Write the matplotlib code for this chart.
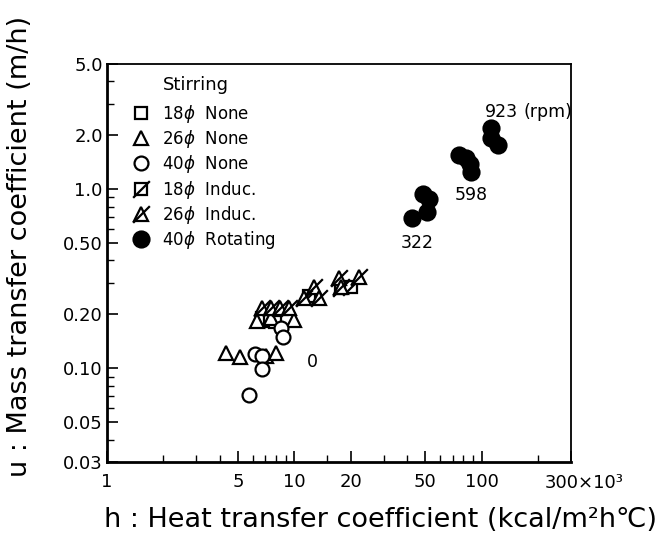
import matplotlib
matplotlib.use("Agg")
import matplotlib.pyplot as plt
from matplotlib.path import Path
from matplotlib.legend_handler import HandlerTuple
from matplotlib.ticker import FixedLocator, NullFormatter, FixedFormatter

# ---- data (h in 10^3 kcal/m2 h C, u in m/h) ----
sq18_none_h = [6.7, 7.4, 7.9]
sq18_none_u = [0.19, 0.184, 0.182]

tri26_none_h = [4.30, 5.16, 7.10, 8.02, 6.36, 7.55, 10.0]
tri26_none_u = [0.122, 0.116, 0.117, 0.122, 0.184, 0.19, 0.186]

circ40_none_h = [5.76, 6.20, 6.76, 6.76, 8.53, 8.74]
circ40_none_u = [0.071, 0.12, 0.117, 0.099, 0.168, 0.150]

sq18_induc_h = [12.0, 17.8, 20.1]
sq18_induc_u = [0.255, 0.28, 0.285]

tri26_induc_h = [6.76, 7.55, 8.43, 9.40, 11.3, 12.8, 13.6, 17.4, 17.8, 22.2]
tri26_induc_u = [0.218, 0.218, 0.218, 0.218, 0.247, 0.285, 0.247, 0.32, 0.285, 0.324]

rot40_h = [42.4, 51.0, 48.5, 52.3, 75.5, 82.2, 86.4, 87.4, 111.6, 111.6, 121.7]
rot40_u = [0.69, 0.75, 0.94, 0.88, 1.56, 1.50, 1.39, 1.25, 2.2, 1.94, 1.77]

x_ticks = [1, 5, 10, 20, 50, 100, 300]
x_ticklabels = ["1", "5", "10", "20", "50", "100", ""]
x_last_label = "300×10³"
y_ticks = [0.03, 0.05, 0.10, 0.20, 0.50, 1.0, 2.0, 5.0]
y_ticklabels = ["0.03", "0.05", "0.10", "0.20", "0.50", "1.0", "2.0", "5.0"]

rpm_labels = [("0", 12.5, 0.109), ("322", 45.1, 0.50), ("598", 88.5, 0.93),
              ("923", 127, 2.7), ("(rpm)", 225, 2.7)]

# ---- figure ----
fig = plt.figure(figsize=(6.71, 5.44), dpi=100)
ax = fig.add_axes([107/671, 1-462/544, (571-107)/671, (462-64)/544])
ax.set_xscale("log")
ax.set_yscale("log")
ax.set_xlim(1, 300)
ax.set_ylim(0.03, 5.0)

slash = Path([(-1, -1), (1, 1)], [Path.MOVETO, Path.LINETO])
ms = 10
lw = 1.6
common = dict(linestyle="none", color="black", markeredgewidth=lw)

h1, = ax.plot(sq18_none_h, sq18_none_u, marker="s", markerfacecolor="white", markersize=ms*0.9, **common)
h2, = ax.plot(tri26_none_h, tri26_none_u, marker="^", markerfacecolor="white", markersize=ms, **common)
h3, = ax.plot(circ40_none_h, circ40_none_u, marker="o", markerfacecolor="white", markersize=ms, **common)
h4a, = ax.plot(sq18_induc_h, sq18_induc_u, marker="s", markerfacecolor="white", markersize=ms*0.9, **common)
h4b, = ax.plot(sq18_induc_h, sq18_induc_u, marker=slash, markersize=ms*1.2, **common)
h5a, = ax.plot(tri26_induc_h, tri26_induc_u, marker="^", markerfacecolor="white", markersize=ms, **common)
h5b, = ax.plot(tri26_induc_h, tri26_induc_u, marker=slash, markersize=ms*1.2, **common)
h6, = ax.plot(rot40_h, rot40_u, marker="o", markerfacecolor="black", markersize=ms*1.15, **common)

# ticks
ax.xaxis.set_major_locator(FixedLocator(x_ticks))
ax.xaxis.set_major_formatter(FixedFormatter(x_ticklabels))
ax.xaxis.set_minor_locator(FixedLocator([2, 3, 4, 6, 7, 8, 9, 15, 30, 40, 60, 70, 80, 90, 200]))
ax.xaxis.set_minor_formatter(NullFormatter())
ax.yaxis.set_major_locator(FixedLocator(y_ticks))
ax.yaxis.set_major_formatter(FixedFormatter(y_ticklabels))
ax.yaxis.set_minor_locator(FixedLocator([0.04, 0.06, 0.07, 0.08, 0.09, 0.3, 0.4, 0.6, 0.7, 0.8, 0.9, 3, 4]))
ax.yaxis.set_minor_formatter(NullFormatter())
ax.tick_params(which="both", direction="in", top=False, right=False, labelsize=13)
ax.tick_params(which="major", length=8, width=1.2)
ax.tick_params(which="minor", length=5, width=1.0)
ax.tick_params(axis="y", pad=3)
ax.tick_params(axis="x", pad=8)
ax.annotate(x_last_label, xy=(x_ticks[-1], 0), xycoords=("data", "axes fraction"),
            xytext=(-19, -8.5), textcoords="offset points", ha="left", va="top", fontsize=13)
for s in ["left", "bottom"]:
    ax.spines[s].set_linewidth(2)
for s in ["top", "right"]:
    ax.spines[s].set_linewidth(1.3)

# annotations
for txt, x, y in rpm_labels:
    ax.text(x, y, txt, fontsize=12.5, ha="center", va="center")

# legend
leg = ax.legend([h1, h2, h3, (h4a, h4b), (h5a, h5b), h6],
                [r"18$\phi$  None", r"26$\phi$  None", r"40$\phi$  None",
                 r"18$\phi$  Induc.", r"26$\phi$  Induc.", r"40$\phi$  Rotating"],
                handler_map={tuple: HandlerTuple(ndivide=1, pad=0)},
                loc="upper left", bbox_to_anchor=(0.04, 0.92), frameon=False,
                fontsize=12, labelspacing=0.2, handlelength=1.0, handletextpad=0.8,
                borderaxespad=0)
fig.text(163/671, 1-85/544, "Stirring", fontsize=13, va="center", ha="left")

fig.text(381/671, 1-520/544, "h : Heat transfer coefficient (kcal/m²h℃)", fontsize=19.5,
         ha="center", va="center")
fig.text(20/671, 1-246/544, "u : Mass transfer coefficient (m/h)", fontsize=19.5,
         ha="center", va="center", rotation=90)

fig.savefig("out.png", dpi=100)
